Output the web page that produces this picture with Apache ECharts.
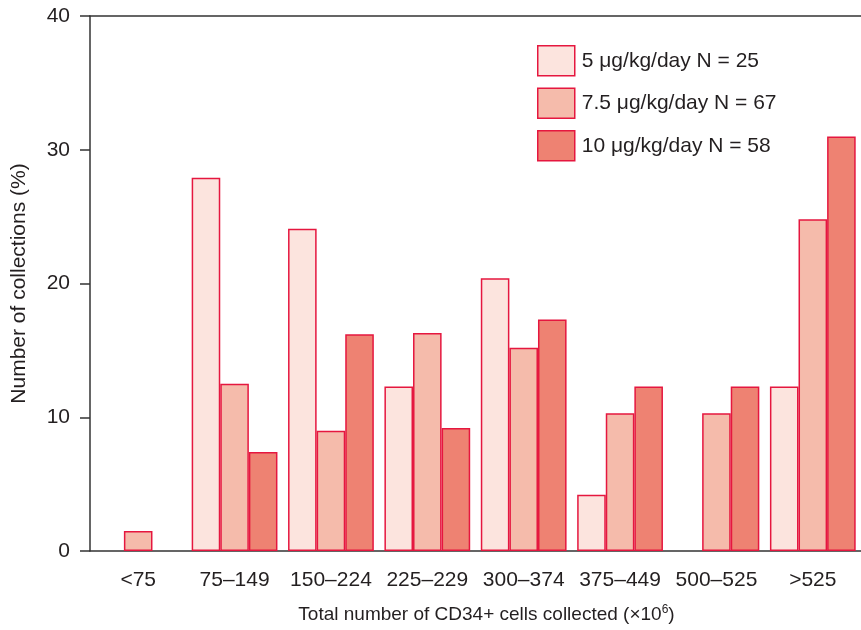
<!DOCTYPE html>
<html>
<head>
<meta charset="utf-8">
<script src="https://cdn.jsdelivr.net/npm/echarts@6/dist/echarts.min.js"></script>
<style>
  html, body { margin: 0; padding: 0; background: #fff; }
  #chart { width: 861px; height: 630px; }
</style>
</head>
<body>
<div id="chart"></div>
<script>
const categories = ['<75', '75–149', '150–224', '225–229', '300–374', '375–449', '500–525', '>525']
const dose5 = [0, 27.9, 24.1, 12.3, 20.4, 4.2, 0, 12.3]
const dose75 = [1.5, 12.5, 9.0, 16.3, 15.2, 10.3, 10.3, 24.8]
const dose10 = [0, 7.4, 16.2, 9.2, 17.3, 12.3, 12.3, 31.0]
const seriesNames = ['5 μg/kg/day N = 25', '7.5 μg/kg/day N = 67', '10 μg/kg/day N = 58']
const yTicks = [0, 10, 20, 30, 40]

const FONT = '"Liberation Sans", Arial, Helvetica, sans-serif'
const TEXT = '#231f20'
const BORDER = '#e5173f'
const fills = ['#fce4de', '#f5bbab', '#ee8272']

const chart = echarts.init(document.getElementById('chart'))

function barSeries(name, data, i) {
  return {
    name,
    type: 'bar',
    // empty bins get no bar at all (otherwise a red border shows on the axis)
    data: data.map((v) => (v === 0 ? '-' : v)),
    barGap: 0,
    barCategoryGap: '11%',
    itemStyle: { color: fills[i], borderColor: BORDER, borderWidth: 1.5 },
    emphasis: { disabled: true },
  }
}

chart.setOption({
  animation: false,
  textStyle: { fontFamily: FONT, color: TEXT },
  grid: { left: 90, top: 16, width: 775, height: 535, containLabel: false },
  legend: {
    orient: 'vertical',
    left: 532,
    top: 40,
    itemWidth: 37,
    itemHeight: 30,
    itemGap: 11,
    icon: 'rect',
    data: seriesNames,
    itemStyle: { borderColor: BORDER, borderWidth: 1.5 },
    textStyle: { fontFamily: FONT, fontSize: 21, color: TEXT, padding: [0, 0, 0, 2] },
  },
  xAxis: [
    {
      type: 'category',
      data: categories,
      axisLine: { lineStyle: { color: '#333', width: 1.5 } },
      axisTick: { alignWithLabel: true, length: 9, lineStyle: { color: '#333', width: 1.5 } },
      axisLabel: { fontFamily: FONT, fontSize: 21, color: TEXT, margin: 19, interval: 0 },
      name: 'Total number of CD34+ cells collected (×10{sup|6})',
      nameLocation: 'middle',
      nameGap: 53,
      nameTextStyle: {
        fontFamily: FONT,
        fontSize: 19,
        color: TEXT,
        padding: [0, 0, 0, 22],
        rich: { sup: { fontFamily: FONT, fontSize: 12, color: TEXT, verticalAlign: 'top', padding: [0, 0, 10, 0] } },
      },
    },
    {
      type: 'category',
      position: 'top',
      data: categories,
      axisLine: { show: true, lineStyle: { color: '#333', width: 1.5 } },
      axisTick: { show: false },
      axisLabel: { show: false },
    },
  ],
  yAxis: {
    type: 'value',
    min: yTicks[0],
    max: yTicks[yTicks.length - 1],
    interval: 10,
    axisLine: { show: true, lineStyle: { color: '#333', width: 1.5 } },
    axisTick: { show: true, length: 10, lineStyle: { color: '#333', width: 1.5 } },
    splitLine: { show: false },
    axisLabel: { fontFamily: FONT, fontSize: 21, color: TEXT, margin: 20 },
    name: 'Number of collections (%)',
    nameLocation: 'middle',
    nameGap: 60,
    nameTextStyle: { fontFamily: FONT, fontSize: 21, color: TEXT },
  },
  series: [
    barSeries(seriesNames[0], dose5, 0),
    barSeries(seriesNames[1], dose75, 1),
    barSeries(seriesNames[2], dose10, 2),
  ],
})
</script>
</body>
</html>
